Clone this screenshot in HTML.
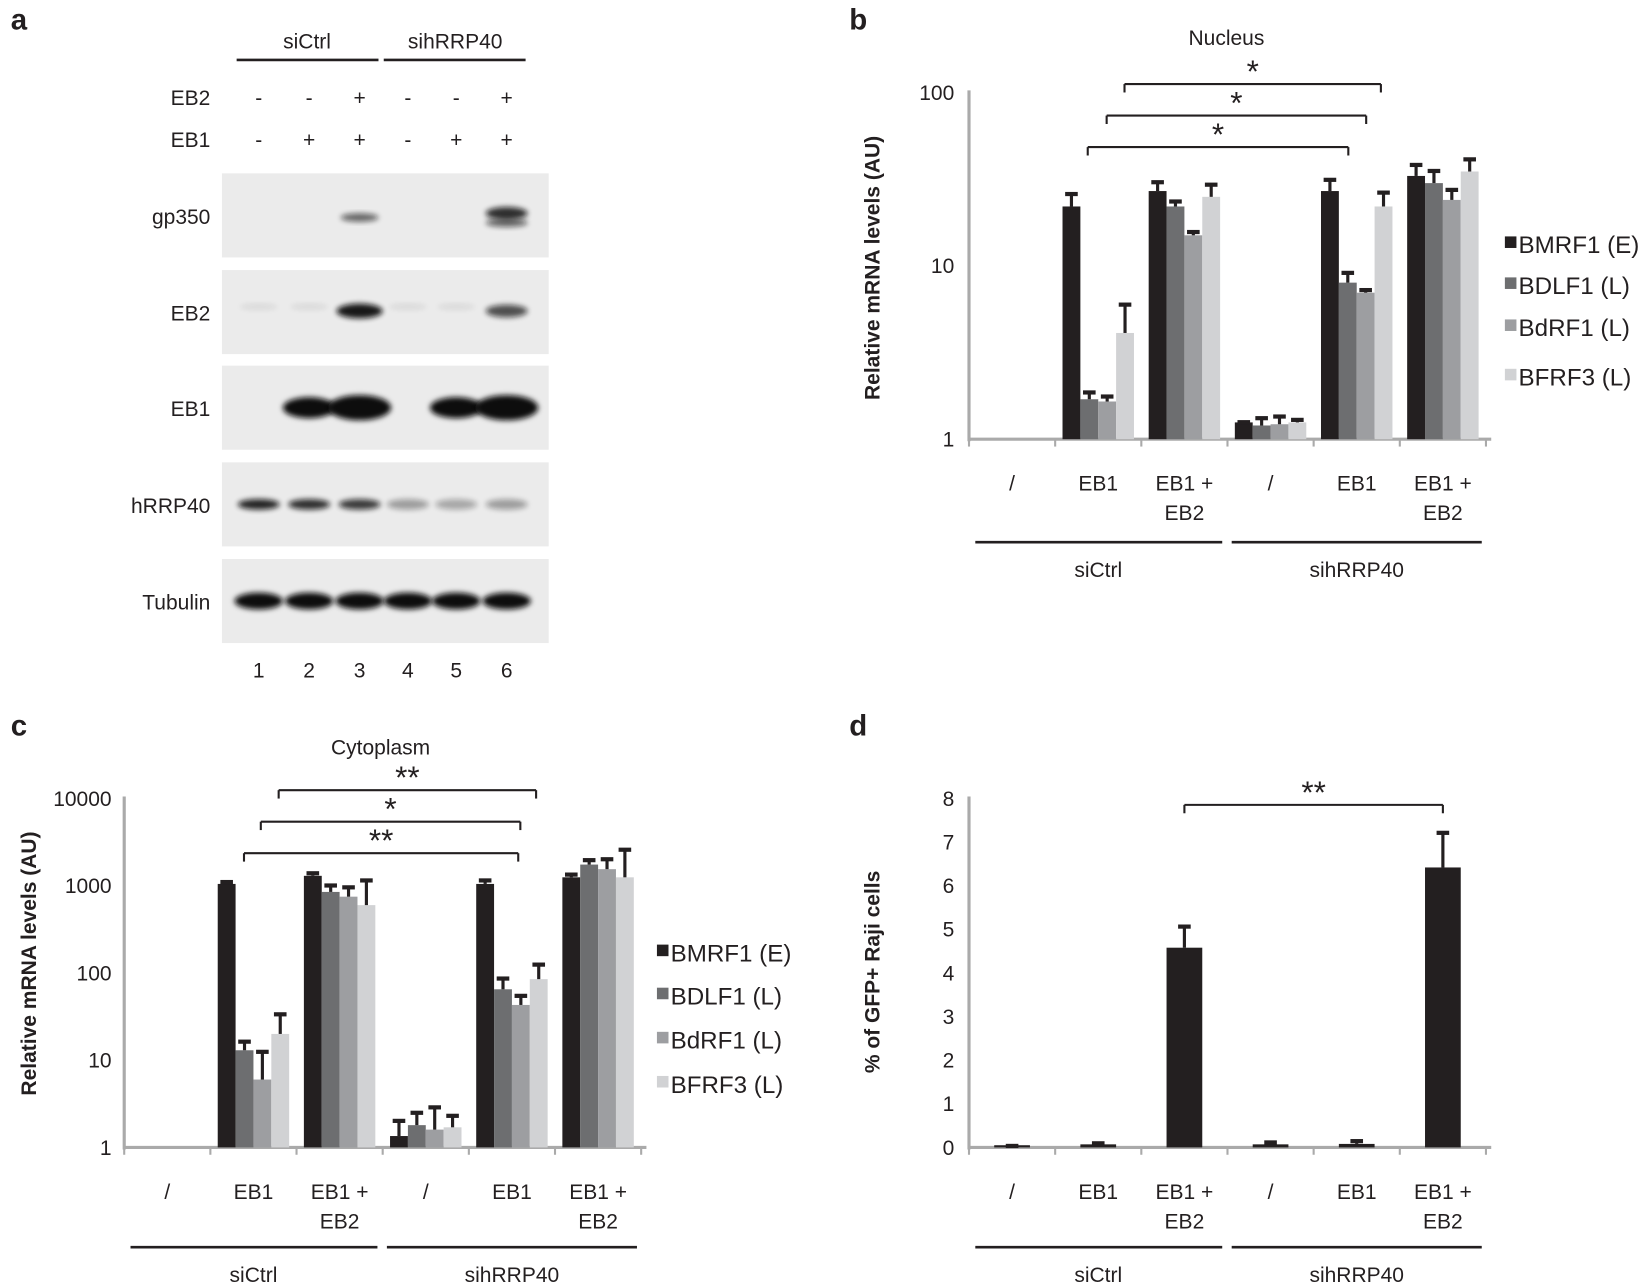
<!DOCTYPE html>
<html><head><meta charset="utf-8"><style>
html,body{margin:0;padding:0;background:#fff}
svg{display:block}
text{font-family:"Liberation Sans",Arial,sans-serif;fill:#231f20}
</style></head><body>
<svg id="s" width="1648" height="1284" viewBox="0 0 1568 1222" xmlns="http://www.w3.org/2000/svg">
<defs>
<filter id="bl" x="-20%" y="-50%" width="140%" height="200%"><feGaussianBlur stdDeviation="2.5"/></filter>
</defs>
</svg>
<script>
const S=document.getElementById('s');let h='';
function T(x,y,t,o){o=o||{};h+=`<text x="${x}" y="${y}" font-size="${o.fs||20}" text-anchor="${o.a||'start'}" ${o.b?'font-weight="bold"':''} ${o.tr?`transform="${o.tr}"`:''}>${t}</text>`;}
function L(x1,y1,x2,y2,c,w){h+=`<line x1="${x1}" y1="${y1}" x2="${x2}" y2="${y2}" stroke="${c||'#231f20'}" stroke-width="${w||2}"/>`;}
function R(x,y,w,hh,c){h+=`<rect x="${x}" y="${y}" width="${w}" height="${hh}" fill="${c}"/>`;}
// panel a
T(10,28,'a',{fs:28,b:1});
T(292,46,'siCtrl',{a:'middle'});T(433,46,'sihRRP40',{a:'middle'});
L(225,57,360,57,'#231f20',2.5);L(365,57,500,57,'#231f20',2.5);
const lx=[246,294,342,388,434,482];
T(200,100,'EB2',{a:'end'});T(200,140,'EB1',{a:'end'});
['-','-','+','-','-','+'].forEach((s,i)=>T(lx[i],100,s,{a:'middle'}));
['-','+','+','-','+','+'].forEach((s,i)=>T(lx[i],140,s,{a:'middle'}));
const strips=[['gp350',165],['EB2',257],['EB1',348],['hRRP40',440],['Tubulin',532]];
strips.forEach(([n,y])=>{R(211,y,311,80,'#ebebeb');T(200,y+48,n,{a:'end'});});
function band(x,y,w,hh,op){h+=`<ellipse cx="${x}" cy="${y}" rx="${w}" ry="${hh}" fill="#111" opacity="${op}" filter="url(#bl)"/>`;}
band(342,207,18,4,0.6);band(482,203,20,6,0.85);band(482,212,20,4,0.6);
[246,294,388,434].forEach(x=>band(x,292,18,3,0.08));
band(342,296,22,7,0.95);band(482,296,20,6,0.7);
[294,342,434,482].forEach((x,i)=>band(x,388,i%2?30:25,i%2?12:10,1));
[0.9,0.85,0.8,0.35,0.3,0.35].forEach((o,i)=>band(lx[i],480,20,5,o));
lx.forEach(x=>band(x,572,23,8,1));
lx.forEach((x,i)=>T(x,645,i+1,{a:'middle'}));
const C=['#231f20','#6d6e70','#9d9ea1','#d1d2d4'];
function chart(ax,y0,y1,ymap,groups,single){
  L(ax,y0,ax,y1+2,'#aaa',3);L(ax,y1,ax+497,y1,'#aaa',3);
  for(let i=0;i<=6;i++)L(ax+i*82,y1,ax+i*82,y1+7,'#aaa',2);
  groups.forEach((g,gi)=>{
    const gx=ax+gi*82;
    g.v.forEach((v,bi)=>{
      let x,w;if(single){w=34;x=gx+41-17;}else{w=17;x=gx+7+bi*17;}
      const yt=ymap(v);R(x,yt,w,y1-yt,single?C[0]:C[bi]);
      if(g.e){const ye=ymap(g.e[bi]);const cx=x+w/2;L(cx,ye,cx,yt,'#231f20',3);L(cx-6,ye+1.5,cx+6,ye+1.5,'#231f20',4);}
    });
  });
}
function cats(ax,y,lineY){
  const labs=['/','EB1','EB1 +','/','EB1','EB1 +'];
  labs.forEach((l,i)=>{T(ax+41+i*82,y,l,{a:'middle'});if(l==='EB1 +')T(ax+41+i*82,y+28,'EB2',{a:'middle'});});
  L(ax+6,lineY,ax+241,lineY,'#231f20',2.5);L(ax+250,lineY,ax+488,lineY,'#231f20',2.5);
  T(ax+123,lineY+33,'siCtrl',{a:'middle'});T(ax+369,lineY+33,'sihRRP40',{a:'middle'});
}
function br(x1,x2,y,lab,sx){L(x1,y+8,x1,y,'#231f20',2);L(x1,y,x2,y,'#231f20',2);L(x2,y,x2,y+8,'#231f20',2);T(sx||(x1+x2)/2,y-2,lab,{a:'middle',fs:30});}
function legend(x,ys){['BMRF1 (E)','BDLF1 (L)','BdRF1 (L)','BFRF3 (L)'].forEach((n,i)=>{R(x,ys[i]-16,11,11,C[i]);T(x+13,ys[i],n,{fs:23});});}
// panel b
T(808,28,'b',{fs:28,b:1});T(1167,43,'Nucleus',{a:'middle'});
const lb=v=>418-165*Math.log10(v);
chart(922,86,418,lb,[
 {v:[1,1,1,1]},
 {v:[22,1.7,1.65,4.1],e:[26.5,1.9,1.8,6.1]},
 {v:[27,22,15,25],e:[31,24,16,30]},
 {v:[1.25,1.2,1.22,1.25],e:[1.28,1.35,1.38,1.32]},
 {v:[27,8,7,22],e:[32,9.3,7.4,27]},
 {v:[33,30,24,35],e:[39,36,28,42]}]);
[['100',88],['10',253],['1',418]].forEach(([t,y])=>T(908,y+7,t,{a:'end'}));
T(0,0,'Relative mRNA levels (AU)',{a:'middle',b:1,tr:'translate(837,255) rotate(-90)'});
cats(922,467,516);
br(1035,1283,140,'*');br(1053,1300,110,'*');br(1070,1314,80,'*');
legend(1432,[241,280,320,367]);
// panel c
T(10,700,'c',{fs:28,b:1});T(362,718,'Cytoplasm',{a:'middle'});
const lc=v=>1092-83*Math.log10(v);
chart(118,758,1092,lc,[
 {v:[1,1,1,1]},
 {v:[1050,13,6,20],e:[1150,17,13,35]},
 {v:[1300,850,750,600],e:[1450,1050,1000,1200]},
 {v:[1.35,1.8,1.6,1.7],e:[2.1,2.6,3.0,2.4]},
 {v:[1050,65,43,85],e:[1200,90,57,130]},
 {v:[1250,1750,1550,1250],e:[1400,2050,2100,2700]}]);
[['10000',760],['1000',843],['100',926],['10',1009],['1',1092]].forEach(([t,y])=>T(106,y+7,t,{a:'end'}));
T(0,0,'Relative mRNA levels (AU)',{a:'middle',b:1,tr:'translate(34,917) rotate(-90)'});
cats(118,1141,1187);
br(232,493,812,'**');br(248,495,782,'*');br(265,510,752,'**');
legend(625,[915,956,998,1040]);
// panel d
T(808,700,'d',{fs:28,b:1});
const ld=v=>1092-41.5*v;
chart(922,758,1092,ld,[
 {v:[0.05],e:[0.07]},{v:[0.07],e:[0.13]},{v:[4.58],e:[5.1]},
 {v:[0.07],e:[0.15]},{v:[0.08],e:[0.18]},{v:[6.42],e:[7.25]}],true);
for(let i=0;i<=8;i++)T(908,1092-41.5*i+7,i,{a:'end'});
T(0,0,'% of GFP+ Raji cells',{a:'middle',b:1,tr:'translate(837,925) rotate(-90)'});
cats(922,1141,1187);
br(1127,1373,766,'**');
S.insertAdjacentHTML('beforeend',h);
</script>
</body></html>
